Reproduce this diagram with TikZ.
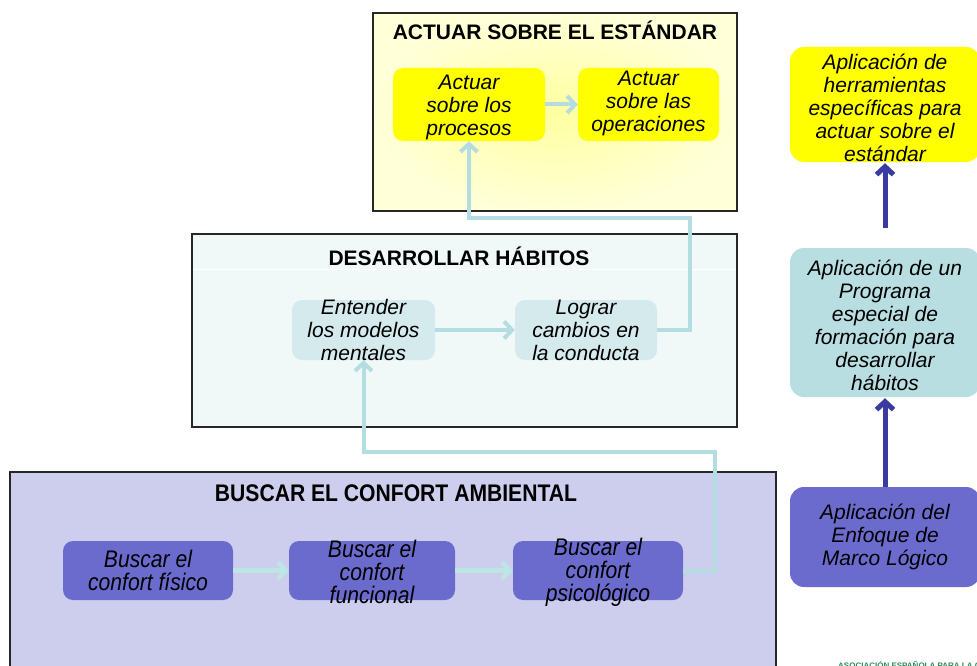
\documentclass[tikz,border=0pt]{standalone}
\usepackage{fontspec}
\setmainfont{Liberation Sans}
\newfontfamily\narrowfont[FakeStretch=0.88]{Liberation Sans}
\usetikzlibrary{arrows.meta}
\definecolor{lblue}{HTML}{B4DDE2}
\definecolor{lblueb}{HTML}{BCE6E4}
\definecolor{dblue}{HTML}{3A3AA0}
\definecolor{ylw}{HTML}{FFFF00}
\definecolor{paleyA}{HTML}{FFFFA0}
\definecolor{paleyB}{HTML}{FFFFD8}
\definecolor{midfill}{HTML}{F0F8F8}
\definecolor{midnode}{HTML}{D5EAED}
\definecolor{botfill}{HTML}{CDCDEE}
\definecolor{purp}{HTML}{6B6BCE}
\definecolor{cyanbox}{HTML}{B8DEE2}
\definecolor{aecgreen}{HTML}{2E8B57}
\tikzset{
  bigbox/.style={draw=black!85, line width=1.2pt, inner sep=0pt},
  pbox/.style={rounded corners=10pt, draw=none, inner sep=0pt},
  txt/.style={align=center, inner sep=0pt, font=\itshape\fontsize{21}{23}\selectfont},
  ntxt/.style={align=center, inner sep=0pt, font=\narrowfont\itshape\fontsize{24}{23}\selectfont},
  ttl/.style={font=\bfseries\fontsize{21}{25}\selectfont, anchor=base, inner sep=0pt},
  lb/.style={draw=lblue, line width=4pt, -{Straight Barb[length=8pt,width=17pt]}},
  lbb/.style={draw=lblueb, line width=4.5pt, -{Straight Barb[length=8pt,width=17pt]}},
  db/.style={draw=dblue, line width=5pt, -{Straight Barb[length=8pt,width=17pt]}},
}
\begin{document}
\begin{tikzpicture}[x=1pt,y=-1pt]
\useasboundingbox (0,0) rectangle (977,666);
\clip (0,0) rectangle (977,666);
\fill[white] (0,0) rectangle (977,666);

% ---------- top box ----------
\node[bigbox, minimum width=364, minimum height=198, inner color=paleyA, outer color=paleyB] (topbox) at (555,112) {};
\node[ttl] (toptitle) at (555,40) {ACTUAR SOBRE EL ESTÁNDAR};
\node[pbox, fill=ylw, minimum width=152, minimum height=73] (t1) at (469,104.5) {};
\node[txt] (t1t) at (469,107) {Actuar\\sobre los\\procesos};
\node[pbox, fill=ylw, minimum width=141, minimum height=73] (t2) at (648.5,104.5) {};
\node[txt] (t2t) at (648.5,103) {Actuar\\sobre las\\operaciones};

% ---------- middle box ----------
\node[bigbox, fill=midfill, minimum width=545, minimum height=193] (midbox) at (464.5,330.5) {};
\draw[white, line width=1pt] (193,269) -- (736,269);
\node[ttl] (midtitle) at (459,265) {DESARROLLAR HÁBITOS};
\node[pbox, fill=midnode, minimum width=143, minimum height=60] (m1) at (363.5,330) {};
\node[txt] (m1t) at (363.5,330) {Entender\\los modelos\\mentales};
\node[pbox, fill=midnode, minimum width=142, minimum height=60] (m2) at (586,330) {};
\node[txt] (m2t) at (586,330) {Lograr\\cambios en\\la conducta};

% ---------- bottom box ----------
\node[bigbox, fill=botfill, minimum width=766, minimum height=210] (botbox) at (393,577) {};
\node[ttl, font=\narrowfont\bfseries\fontsize{24}{28}\selectfont] (bottitle) at (396,501.5) {BUSCAR EL CONFORT AMBIENTAL};
\node[pbox, fill=purp, minimum width=170, minimum height=59] (b1) at (148,570.5) {};
\node[ntxt] (b1t) at (148,570) {Buscar el\\confort físico};
\node[pbox, fill=purp, minimum width=166, minimum height=59] (b2) at (372,570.5) {};
\node[ntxt] (b2t) at (372,572) {Buscar el\\confort\\funcional};
\node[pbox, fill=purp, minimum width=170, minimum height=59] (b3) at (598,570.5) {};
\node[ntxt] (b3t) at (598,572) {Buscar el\\confort\\psicológico};

% ---------- right column ----------
\node[pbox, rounded corners=14pt, fill=ylw, minimum width=190, minimum height=115] (r1) at (885,104.5) {};
\node[txt] (r1t) at (885,108) {Aplicación de\\herramientas\\específicas para\\actuar sobre el\\estándar};
\node[pbox, rounded corners=14pt, fill=cyanbox, minimum width=190, minimum height=149] (r2) at (885,322.5) {};
\node[txt] (r2t) at (885,325.5) {Aplicación de un\\Programa\\especial de\\formación para\\desarrollar\\hábitos};
\node[pbox, rounded corners=14pt, fill=purp, minimum width=190, minimum height=100] (r3) at (885,537) {};
\node[txt] (r3t) at (885,537) {Aplicación del\\Enfoque de\\Marco Lógico};

% ---------- connectors ----------
\coordinate (c1) at (690,218);
\coordinate (c2) at (715,452);
\draw[lb] (t1.east) -- (t2.west);
\draw[lb] (m1.east) -- (m2.west);
\draw[lb] (m2.east) -| (c1) -| (t1.south);
\draw[lb] (b3.east) -| (c2) -| (m1.south);
\draw[lbb] (b1.east) -- (b2.west);
\draw[lbb] (b2.east) -- (b3.west);
\draw[db, shorten >=1pt] (r3.north) -- (r2.south);
\draw[db, shorten <=20pt, shorten >=1pt] (r2.north) -- (r1.south);

% ---------- footer logo text (cut off at the edge, as in the reference) ----------
\node[anchor=base west, inner sep=0pt, text=aecgreen, font=\bfseries\fontsize{8}{9}\selectfont] (logo) at (838,668.5) {ASOCIACIÓN ESPAÑOLA PARA LA CALIDAD};
\end{tikzpicture}
\end{document}
